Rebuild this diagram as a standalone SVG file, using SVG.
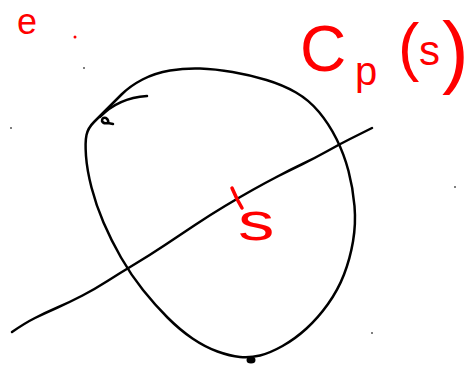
<svg xmlns="http://www.w3.org/2000/svg" width="472" height="367" viewBox="0 0 472 367">
<style>
.ink{fill:none;stroke:#000;stroke-width:2.5;stroke-linecap:round;stroke-linejoin:round}
.red{fill:none;stroke:#f00;stroke-width:3.5;stroke-linecap:round;stroke-linejoin:round}
.rt{fill:#f00;font-family:"Liberation Sans","DejaVu Sans",sans-serif}
.dot{fill:#555}
</style>
<rect width="472" height="367" fill="#fff"/>
<g id="curve">
<path class="ink" d="M121.5,94.5 Q130,86 142.5,79.5 Q155,73 170,70.5 Q185,68 200,68.5 Q215,69 232.5,72 Q250,75 266.5,80 Q283,85 296,92.5 Q309,100 319,112 Q329,124 336.5,139 Q344,154 348.5,171 Q353,188 354.5,206 Q356,224 353,241.5 Q350,259 344,274.5 Q338,290 328,304 Q318,318 306.5,328.5 Q295,339 282.5,346 Q270,353 260,355.5 Q250,358 240,357 Q230,356 217.5,351.5 Q205,347 192.5,338.5 Q180,330 167.5,317.5 Q155,305 143,290 Q131,275 121,257.5 Q111,240 103.5,222.5 Q96,205 91.5,187.5 Q87,170 86,156 Q85,142 86.5,135 Q88,128 94,122 Q100,116 106.5,109.5 Q113,103 121.5,94.5"/>
<path class="ink" d="M100,117 Q118,98 147,96"/>
<path class="ink" stroke-width="2" d="M108,123 Q103,124 102,121 Q102,117 106,118 Q109,120 108,123 L113,124"/>
<ellipse cx="251" cy="360" rx="4.5" ry="3.5" fill="#000"/>
</g>
<g id="line">
<path class="ink" d="M12,332 Q25,323 35,318 Q45,313 57.5,307.5 Q70,302 82.5,295.5 Q95,289 107.5,281 Q120,273 135,264 Q150,255 165,245 Q180,235 195,225 Q210,215 225,206 Q240,197 252.5,190 Q265,183 277.5,176.5 Q290,170 302.5,164 Q315,158 327.5,151 Q340,144 350,139 Q360,134 372,128"/>
</g>
<g id="point-s">
<path class="red" stroke-width="4" d="M232,188 L237,199 L242,208"/>
<text class="rt" x="238" y="240" font-size="52" transform="translate(238 240) scale(1.4 1) translate(-238 -240)">s</text>
</g>
<g id="label-cp">
<text class="rt" x="300" y="71" font-size="64">C</text>
<text class="rt" x="355" y="85" font-size="40">p</text>
<text class="rt" x="398" y="69" font-size="64">(</text>
<text class="rt" x="419" y="65" font-size="42">s</text>
<text class="rt" x="442" y="78" font-size="80">)</text>
</g>
<g id="label-e">
<text class="rt" x="17" y="34" font-size="36">e</text>
<circle cx="75" cy="37" r="1.5" fill="#f00"/>
</g>
<g id="specks">
<circle class="dot" cx="84" cy="68" r="1"/>
<circle class="dot" cx="11" cy="128" r="1"/>
<circle class="dot" cx="372" cy="333" r="1"/>
<circle class="dot" cx="455" cy="187" r="1"/>
</g>
</svg>
